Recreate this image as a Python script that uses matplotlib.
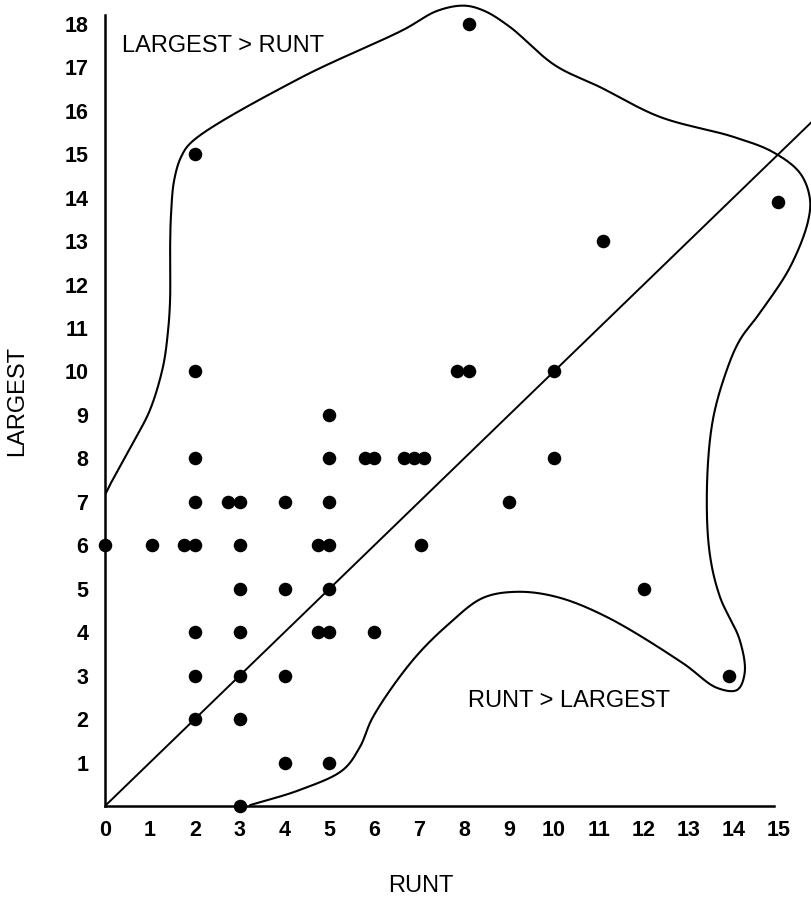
import numpy as np
import matplotlib
matplotlib.use("Agg")
import matplotlib.pyplot as plt

plt.rcParams['font.family'] = ['Liberation Sans', 'DejaVu Sans']

# Litter data: weight rank of the runt vs. the largest pup
runt = [8.1, 2, 15, 11.1,
        2, 7.85, 8.1, 10,
        5,
        2, 5, 5.8, 6, 6.65, 6.88, 7.1, 10,
        2, 2.75, 3, 4, 5, 9,
        0, 1.05, 1.75, 2, 3, 4.75, 5, 7.05,
        3, 4, 5, 12,
        2, 3, 4.75, 5, 6,
        2, 3, 4, 13.9,
        2, 3,
        4, 5,
        3]
largest = [18, 15, 13.9, 13,
           10, 10, 10, 10,
           9,
           8, 8, 8, 8, 8, 8, 8, 8,
           7, 7, 7, 7, 7, 7,
           6, 6, 6, 6, 6, 6, 6, 6,
           5, 5, 5, 5,
           4, 4, 4, 4, 4,
           3, 3, 3, 3,
           2, 2,
           1, 1,
           0]

x_ticks = list(range(0, 16))
y_ticks = list(range(1, 19))

# Hand-drawn boundary enclosing the litters
outline_x = [0.02, 0.11, 0.62, 1.0, 1.29, 1.40, 1.45, 1.45, 1.47, 1.54, 1.70, 1.95,
             4.34, 6.64, 7.40, 8.0, 8.45, 9.02, 10.02, 11.02, 12.36, 14.0, 14.88, 15.48,
             15.7, 15.66, 15.26, 14.59, 14.14, 13.85, 13.54, 13.41, 13.47, 13.7, 14.14,
             14.25, 14.08, 13.63, 12.87, 11.18, 10.07, 9.18, 8.42, 7.68, 6.86, 5.97,
             5.68, 5.3, 4.34, 3.23]
outline_y = [7.2, 7.39, 8.35, 9.11, 10.1, 10.89, 11.65, 12.8, 13.6, 14.4, 14.95, 15.3,
             16.75, 17.86, 18.3, 18.42, 18.3, 17.93, 17.05, 16.55, 15.86, 15.4, 15.05, 14.57,
             14.0, 13.45, 12.4, 11.35, 10.72, 10.03, 8.88, 7.34, 5.82, 4.81, 3.82,
             3.06, 2.67, 2.72, 3.29, 4.35, 4.81, 4.93, 4.79, 4.21, 3.36, 2.05,
             1.36, 0.83, 0.37, 0.02]


def smooth_path(xs, ys, n=30, alpha=0.5):
    """Centripetal Catmull-Rom curve through the given vertices."""
    pts = np.column_stack([xs, ys]).astype(float)
    pts = np.vstack([2 * pts[0] - pts[1], pts, 2 * pts[-1] - pts[-2]])
    out = []
    for i in range(1, len(pts) - 2):
        p0, p1, p2, p3 = pts[i - 1], pts[i], pts[i + 1], pts[i + 2]
        t0 = 0.0
        t1 = t0 + np.linalg.norm(p1 - p0) ** alpha
        t2 = t1 + np.linalg.norm(p2 - p1) ** alpha
        t3 = t2 + np.linalg.norm(p3 - p2) ** alpha
        t = np.linspace(t1, t2, n, endpoint=False)[:, None]
        a1 = (t1 - t) / (t1 - t0) * p0 + (t - t0) / (t1 - t0) * p1
        a2 = (t2 - t) / (t2 - t1) * p1 + (t - t1) / (t2 - t1) * p2
        a3 = (t3 - t) / (t3 - t2) * p2 + (t - t2) / (t3 - t2) * p3
        b1 = (t2 - t) / (t2 - t0) * a1 + (t - t0) / (t2 - t0) * a2
        b2 = (t3 - t) / (t3 - t1) * a2 + (t - t1) / (t3 - t1) * a3
        c = (t2 - t) / (t2 - t1) * b1 + (t - t1) / (t2 - t1) * b2
        out.append(c)
    out.append(pts[-2][None, :])
    out = np.vstack(out)
    return out[:, 0], out[:, 1]


fig = plt.figure(figsize=(8.12, 9.0), dpi=100)
fig.patch.set_facecolor('white')
ax = fig.add_axes([105 / 812, 94 / 900, 707 / 812, 806 / 900])
ax.set_xlim(0, 15.75)
ax.set_ylim(0, 18.55)

# Boundary curve
cx, cy = smooth_path(outline_x, outline_y)
ax.plot(cx, cy, color='black', lw=1.5, clip_on=False, solid_capstyle='round')

# Line of equality
ax.axline((0, 0), slope=1, color='black', lw=1.4)

# Litters
ax.scatter(runt, largest, s=95, color='black', zorder=3, clip_on=False, linewidths=0)

# Region labels
ax.text(0.38, 17.35, "LARGEST > RUNT", fontsize=17, va='baseline', ha='left')
ax.text(8.08, 2.28, "RUNT > LARGEST", fontsize=17, va='baseline', ha='left')

# Axes styling
for side in ('top', 'right'):
    ax.spines[side].set_visible(False)
ax.spines['left'].set_linewidth(1.8)
ax.spines['bottom'].set_linewidth(1.8)
ax.spines['left'].set_bounds(0, 18.2)
ax.spines['bottom'].set_bounds(0, 14.9)

ax.set_xticks(x_ticks)
ax.set_xticklabels([str(v) for v in x_ticks], fontweight='bold')
ax.set_yticks(y_ticks)
ax.set_yticklabels([str(v) for v in y_ticks], fontweight='bold')
ax.tick_params(axis='x', length=0, pad=10, labelsize=15.5)
ax.tick_params(axis='y', length=0, pad=12, labelsize=15.5)

fig.text(421 / 812, 1 - 886 / 900, "RUNT", fontsize=17, ha='center', va='center')
fig.text(17 / 812, 1 - 401 / 900, "LARGEST", fontsize=17, ha='center', va='center',
         rotation=90)

fig.savefig("out.png", dpi=100, facecolor='white')
